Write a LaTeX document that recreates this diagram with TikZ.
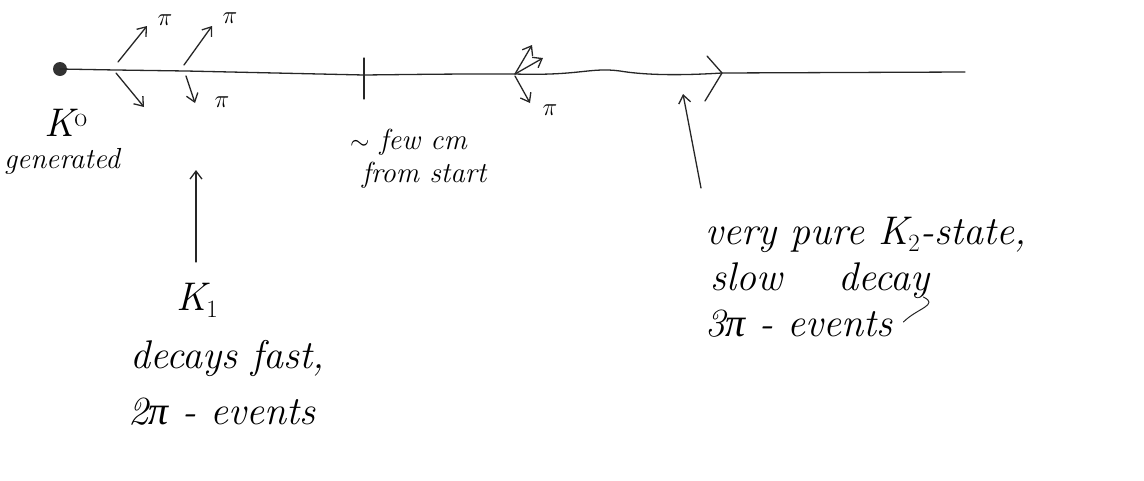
\documentclass[tikz,border=0pt]{standalone}
\usepackage{fontspec}
\newfontfamily\pifont{Liberation Serif}
\usetikzlibrary{arrows.meta}
\tikzset{
  pen/.style={line width=1.3pt, line cap=round, line join=round, black!85},
  decay/.style={pen, -{Straight Barb[length=8pt,width=12pt]}},
  hand/.style={font=\fontsize{40}{44}\selectfont\itshape, inner sep=0pt, anchor=base west},
  small/.style={font=\fontsize{29}{32}\selectfont\itshape, inner sep=0pt, anchor=base west},
  pilab/.style={font=\fontsize{24}{26}\selectfont, inner sep=0pt},
}
\begin{document}
\begin{tikzpicture}[x=1pt,y=-1pt]
\useasboundingbox (0,0) rectangle (1144,480);
% beam line
\node[circle, fill=black!80, minimum size=14pt, inner sep=0pt] (k0) at (60,69) {};
\coordinate (v1) at (116,70);
\coordinate (v2) at (186,71);
\coordinate (tick) at (364,75);
\coordinate (v3) at (515,74);
\coordinate (chev) at (722,73);
\coordinate (end) at (965,72);
\draw[pen] (k0.center) -- (v1) -- (v2) -- (tick) .. controls (450,74) .. (v3) .. controls (580,76) and (590,67) .. (620,71) .. controls (650,76) and (690,75) .. (chev) -- (end);
% tick mark
\coordinate (tickt) at (364,58);
\coordinate (tickb) at (364,99);
\draw[pen] (tickt) -- (tickb);
% mid arrow chevron
\coordinate (chevA) at (707,56);
\coordinate (chevB) at (705,101);
\draw[pen] (chevA) -- (chev) -- (chevB);
% first decay vertex
\coordinate (p1a) at (147,26);
\coordinate (p1b) at (144,107);
\draw[decay] (v1) ++(2,-8) -- (p1a);
\draw[decay] (v1) ++(0,3) -- (p1b);
\node[pilab] (pi1) at (165,20) {$\pi$};
% second decay vertex
\coordinate (p2a) at (212,26);
\coordinate (p2b) at (195,103);
\draw[decay] (v2) ++(-2,-6) -- (p2a);
\draw[decay] (v2) ++(0,5) -- (p2b);
\node[pilab] (pi2) at (230,18) {$\pi$};
\node[pilab] (pi3) at (222,102) {$\pi$};
% third decay vertex
\coordinate (p3a) at (532,45);
\coordinate (p3b) at (543,58);
\coordinate (p3c) at (530,103);
\draw[decay] (v3) -- (p3a);
\draw[decay] (v3) -- (p3b);
\draw[decay] (v3) ++(0,2) -- (p3c);
\node[pilab] (pi4) at (550,110) {$\pi$};
% labels
\node[hand] (k0lab) at (44,136) {K$^{\mathrm{o}}$};
\node[small] (gen) at (4,168) {generated};
\node[small] (few) at (350,149) {$\sim$ few cm};
\node[small] (from) at (362,182) {from start};
\node[hand] (k1) at (176,310) {K$_1$};
\node[hand] (dec) at (130,368) {decays fast,};
\node[hand] (ev2) at (128,424) {2{\pifont π} - events};
\node[hand] (pure) at (705,244) {very pure K$_2$-state,};
\node[hand] (slow) at (710,290) {slow\hspace{1.4em}decay};
\node[hand] (ev3) at (705,336) {3{\pifont π} - events};
% pointer arrows
\coordinate (k1tail) at (196,262);
\coordinate (k1tip) at (196,170);
\draw[decay] (k1tail) -- (k1tip);
\coordinate (k2tail) at (701,188);
\coordinate (k2tip) at (683,94);
\draw[decay] (k2tail) -- (k2tip);
% tail of the handwritten y in decay
\coordinate (yt1) at ([xshift=-6pt,yshift=-7pt]slow.base east);
\coordinate (yt2) at ([xshift=-26pt,yshift=-32pt]slow.base east);
\draw[pen, line width=1pt] (yt1) .. controls +(16,8) and +(14,-14) .. (yt2);
\end{tikzpicture}
\end{document}
